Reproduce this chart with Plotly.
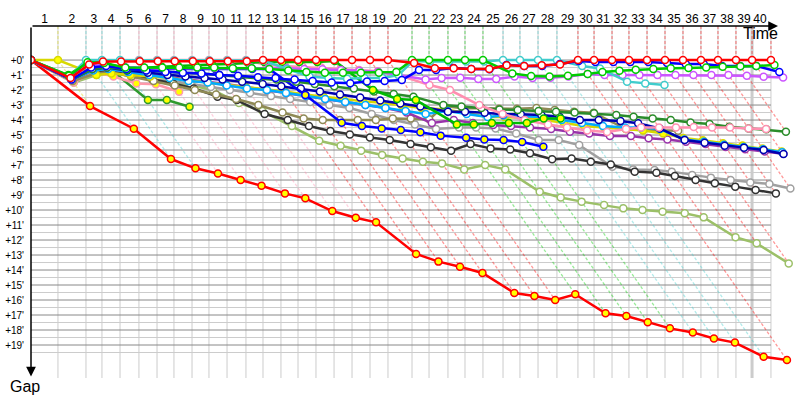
import plotly.graph_objects as go

# leader's cumulative time at the end of each lap (minutes), lap 0..40
lap_end = [0, 2.58, 5.26, 6.79, 8.52, 10.33, 12.06, 13.68, 15.41, 17.03, 18.76,
           20.57, 22.20, 23.92, 25.55, 27.27, 29.00, 30.72, 32.44, 34.16, 36.46,
           38.09, 39.90, 41.53, 43.25, 45.17, 46.79, 48.52, 50.33, 52.34, 53.88,
           55.60, 57.22, 58.95, 60.67, 62.39, 64.11, 65.74, 67.46, 69.00, 70.81]
laps = list(range(1, 41))
gap_ticks = list(range(0, 20))

# gap to the leader (minutes) at the end of every lap, starting with lap 0
gap_red = [0, 1.2, 0.3, 0.1, 0.1, 0.08, 0.08, 0.08, 0.08, 0.08, 0.08, 0.08,
           0, 0, 0, 0, 0, 0, 0, 0, 0.2, 0.55, 0.55, 0.6, 0.6, 0.35, 0.4, 0.35, 0.3,
           0, 0, 0, 0, 0, 0, 0, 0, 0, 0, 0, 0]
gap_green = [0, 1.05, 0.15, 0.2, 0.5, 0.5, 0.5, 0.5, 0.5, 0.5, 0.55, 0.55, 0.6,
             0.7, 0.8, 0.85, 0.85, 0.85, 0.85, 0.8, 0, 0, 0, 0, 0,
             0.89, 1.07, 1.1, 1.05, 0.93, 0.8, 0.71, 0.65, 0.6, 0.55, 0.53, 0.5,
             0.45, 0.42, 0.4, 0.33]
gap_cyan = [0, 1.1, 0, 0, 0, 0.03, 0.03, 0.03, 0.03, 0.03, 0.03, 0.03, 0.03,
            0.6, 1.1, 1.2, 1.25, 1.2, 1.2, 1.0, 0.07, 0.1, 0.1, 0.1, 0.1,
            0, 0, 0, 0, 0.4, 0.56, 1.44, 1.56, 1.67]
gap_violet = [0, 1.2, 0.3, 0.4, 0.5, 0.6, 0.55, 0.55, 0.55, 0.53, 0.5, 0.5, 0.53,
              0.55, 0.6, 0.62, 0.67, 0.72, 0.78, 1.0, 1.3, 1.2, 1.18, 1.27, 1.27,
              1.1, 1.2, 1.18, 1.1, 0.93, 1.0, 1.0, 1.0, 1.0, 1.0, 1.0, 1.0, 1.0,
              1.04, 1.11, 1.16]
gap_pink = [0, 1.3, 0.2, 0.1, 0.05, 0, 0, 0, 0, 0, 0, 0, 0.33, 0.4, 0.45, 0.5,
            0.6, 0.67, 0.75, 1.0, 1.67, 2.0, 3.0, 3.6, 4.0, 4.3, 4.5, 4.7, 4.8,
            4.6, 4.5, 4.5, 4.5, 4.47, 4.5, 4.5, 4.56, 4.6]
gap_darkgreen = [0, 1.3, 0.6, 0.5, 0.6, 0.7, 0.8, 0.85, 0.9, 1.0, 1.1, 1.2, 1.3,
                 1.45, 1.6, 1.75, 1.9, 2.1, 2.27, 2.44, 3.0, 3.1, 3.2, 3.3, 3.33,
                 3.4, 3.45, 3.5, 3.55, 3.67, 3.78, 3.89, 4.0, 4.16, 4.27, 4.44,
                 4.56, 4.62, 4.78]
gap_black = [0, 1.3, 0.8, 0.7, 1.0, 1.3, 1.56, 1.89, 2.44, 2.67, 3.6, 4.0, 4.4,
             4.73, 4.96, 5.16, 5.33, 5.6, 5.82, 6.04, 5.6, 5.89, 5.96, 6.22, 6.62,
             6.56, 6.78, 6.96, 7.44, 7.51, 7.73, 8.0, 8.22, 8.44, 8.67, 8.89]
gap_gray = [0, 1.4, 0.9, 0.8, 1.1, 1.3, 1.4, 1.6, 1.8, 2.0, 2.2, 2.4, 2.6, 2.8,
            3.0, 3.2, 3.6, 4.0, 4.3, 4.6, 4.5, 4.5, 4.56, 4.9, 5.33, 5.33, 5.67,
            7.11, 7.29, 7.33, 7.44, 7.67, 7.84, 8.0, 8.16, 8.27, 8.56]
gap_yellowgreen = [0, 1.5, 1.0, 0.8, 1.1, 1.3, 1.5, 1.7, 2.0, 2.87, 3.4, 4.4,
                   5.38, 5.71, 6.04, 6.33, 6.56, 6.78, 6.89, 7.29, 7.0, 7.29,
                   8.78, 9.16, 9.44, 9.67, 9.89, 10.0, 10.11, 10.22, 10.49, 11.82,
                   12.22, 13.56]
gap_red_y = [0, 3.07, 4.58, 6.6, 7.22, 7.56, 8.0, 8.38, 8.89, 9.22, 10.07, 10.51,
             10.82, 12.93, 13.44, 13.78, 14.2, 15.53, 15.73, 16.0, 15.62, 16.89,
             17.07, 17.49, 17.89, 18.16, 18.56, 18.84, 19.78, 20.0]
gap_darkgreen_y = [0, 1.2, 0.3, 0.4, 2.67, 2.67, 3.11]
gap_pink_y = [0, 1.5, 0.78, 1.1, 1.56, 1.62, 2.11]
gap_blue_y = [0, 1.1, 0.2, 0.3, 0.5, 0.55, 0.6, 0.6, 0.6, 0.6, 0.6, 0.6, 0.6,
              2.33, 4.18, 4.4, 4.56, 4.67, 4.82, 5.04, 5.18, 5.29, 5.33, 5.47, 5.78]
gap_blue = [0, 1.3, 0.5, 0.4, 0.6, 0.7, 0.8, 0.85, 0.9, 1.0, 1.05, 1.15, 1.2,
            1.3, 1.4, 1.5, 1.55, 1.43, 1.4, 1.33, 0.67, 0.67, 0.53, 0.6, 0.62,
            0.33, 0.4, 0.4, 0.27, 0.07, 0.13, 0.13, 0.13, 0.13, 0.2, 0.27, 0.27,
            0.4, 0.4, 0.4, 0.8]
gap_navy = [0, 1.3, 0.6, 0.5, 0.7, 0.85, 1.0, 1.1, 1.2, 1.3, 1.45, 1.6, 1.75,
            1.9, 2.1, 2.3, 2.5, 2.7, 2.9, 3.1, 3.44, 3.44, 3.51, 3.62, 3.62, 3.67,
            3.78, 4.0, 4.0, 4.07, 4.22, 4.56, 5.33, 5.51, 5.71, 5.84, 6.0, 6.27]
gap_olive = [0, 1.4, 0.9, 0.8, 1.1, 1.4, 1.7, 2.0, 2.3, 2.6, 3.0, 3.5, 3.89,
             4.0, 4.0, 4.0, 4.0, 3.9, 3.9, 3.95, 3.07, 3.22, 3.22, 3.25, 3.25,
             3.2, 3.33, 3.44, 3.51, 4.6, 4.67, 4.7, 4.71]
gap_lightblue = [0, 1.3, 0.7, 0.6, 0.8, 1.0, 1.2, 1.4, 1.5, 1.7, 1.9, 2.0, 2.2,
                 2.4, 2.6, 2.8, 3.0, 3.2, 3.4, 3.6, 3.4, 3.6, 3.8, 3.7, 3.75, 3.8,
                 4.0, 4.2, 4.4, 4.5, 4.5, 4.6, 5.3, 5.45, 5.65, 5.8, 5.95, 6.15]
gap_purple = [0, 1.3, 0.7, 0.6, 0.8, 1.0, 1.15, 1.3, 1.45, 1.6, 1.8, 2.0, 2.2,
              2.4, 2.6, 2.8, 3.0, 3.2, 3.5, 4.2, 4.0, 4.2, 4.33, 4.4, 4.5, 4.6,
              4.78, 4.9, 5.07, 5.07, 5.22, 5.3, 5.45, 5.6, 5.8, 5.95, 6.1, 6.25]
gap_yellow = [0, 0, 1.0, 0.9, 1.0, 1.1, 1.2, 1.35, 1.5, 1.65, 1.8, 1.95, 2.1,
              2.3, 2.45, 2.6, 2.75, 2.85, 3.0, 3.2, 3.3, 3.55, 3.8, 3.8, 3.85,
              4.0, 4.2, 4.4, 4.5, 4.6, 4.7, 4.9, 5.2, 5.35, 5.55, 5.7, 5.9, 6.1]
gap_green_y = [0, 1.0, 0.15, 0.15, 0.67, 0.52, 0.44, 0.38, 0.33, 0.3, 0.27,
               0.18, 0.13, 0.13, 0.13, 0.13, 0.07, 2.0, 2.6, 2.67, 4.29, 4.29,
               4.2, 4.2, 4.2, 3.89, 3.89]

# drawing order: first is at the bottom
cars = [
    (gap_red_y, "#ff0000", "#ffff00"),
    (gap_yellowgreen, "#9cc068", "white"),
    (gap_gray, "#a0a0a0", "white"),
    (gap_black, "#333333", "white"),
    (gap_darkgreen_y, "#2e9a2e", "#ffff00"),
    (gap_pink_y, "#ff99aa", "#ffff00"),
    (gap_olive, "#8f8a55", "white"),
    (gap_purple, "#9933aa", "white"),
    (gap_yellow, "#d8d800", "#ffff00"),
    (gap_lightblue, "#00aaff", "white"),
    (gap_navy, "#0000b0", "white"),
    (gap_blue_y, "#0000ff", "#ffff00"),
    (gap_darkgreen, "#2a8c2a", "white"),
    (gap_pink, "#ff8fb0", "white"),
    (gap_green_y, "#00bb00", "#ffff00"),
    (gap_violet, "#cc55ff", "white"),
    (gap_cyan, "#40cccc", "white"),
    (gap_blue, "#0000ff", "white"),
    (gap_green, "#00cc00", "white"),
    (gap_red, "#ff0000", "white"),
]

px_per_min = 10.45
x_max = 769 / px_per_min
y_top, y_bottom = -2.27, 21.2

fig = go.Figure()

shapes = []
# horizontal grid
for i in range(0, 40):
    g = i / 2
    shapes.append(dict(type="line", xref="x", yref="y", x0=0, x1=lap_end[-1],
                       y0=g, y1=g, layer="below",
                       line=dict(color="#888888" if i % 2 == 0 else "#cccccc", width=1)))
# vertical grid at every lap end
for n in range(1, 41):
    shapes.append(dict(type="line", xref="x", yref="paper", x0=lap_end[n], x1=lap_end[n],
                       y0=0, y1=1, layer="below",
                       line=dict(color="#cccccc", width=3 if n == 39 else 1)))

# lap lines: every car finishing lap n sits on the same diagonal
for n in range(1, 41):
    on_lap = [(g[n], col) for g, col, _ in cars if len(g) > n]
    deepest = max(v for v, _ in on_lap)
    leader_col = min(on_lap, key=lambda t: t[0])[1]
    fig.add_trace(go.Scatter(
        x=[lap_end[n], lap_end[n], lap_end[n] + deepest],
        y=[y_top, 0, deepest],
        mode="lines", hoverinfo="skip", opacity=0.4,
        line=dict(color=leader_col, width=1.3, dash="3px,2px"),
    ))

for gaps, col, fill in cars:
    xs = [lap_end[n] + g for n, g in enumerate(gaps)]
    fig.add_trace(go.Scatter(
        x=xs, y=gaps, mode="lines+markers",
        line=dict(color=col, width=2.5),
        marker=dict(size=7, color=fill, line=dict(color=col, width=1.5)),
    ))

# lap labels sit in the middle of each lap; the last one is squeezed against the finish line
label_pos = [(lap_end[n - 1] + lap_end[n]) / 2 for n in laps]
label_pos[-1] = lap_end[39] + 0.75

font = "Liberation Sans, Arial, sans-serif"
fig.update_layout(
    width=800, height=400,
    margin=dict(l=31, r=0, t=26, b=22),
    paper_bgcolor="white", plot_bgcolor="white",
    showlegend=False,
    shapes=shapes,
    font=dict(family=font, color="black"),
    xaxis=dict(
        range=[0, x_max], side="top", automargin=False,
        tickvals=label_pos,
        ticktext=[str(n) for n in laps],
        tickfont=dict(size=12), ticks="", tickangle=0,
        showgrid=False, zeroline=False, showline=False,
    ),
    yaxis=dict(
        range=[y_bottom, y_top], automargin=False,
        tickvals=gap_ticks,
        ticktext=[f"+{v}'" for v in gap_ticks],
        tickfont=dict(size=10), ticks="", ticklabelstandoff=6,
        showgrid=False, zeroline=False, showline=False,
    ),
    annotations=[
        dict(x=(778 - 31) / px_per_min, y=y_top, xref="x", yref="y",
             ax=0, ay=y_top, axref="x", ayref="y", text="",
             showarrow=True, arrowhead=2, arrowsize=1.3, arrowwidth=1.5, arrowcolor="black"),
        dict(x=0, y=21.1, xref="x", yref="y",
             ax=0, ay=y_top, axref="x", ayref="y", text="",
             showarrow=True, arrowhead=2, arrowsize=1.3, arrowwidth=1.5, arrowcolor="black"),
        dict(x=(760 - 31) / 769, y=(378 - 34) / 352, xref="paper", yref="paper",
             xanchor="center", yanchor="middle",
             text="Time", showarrow=False, font=dict(size=16, family=font)),
        dict(x=(25 - 31) / 769, y=(378 - 386) / 352, xref="paper", yref="paper",
             xanchor="center", yanchor="middle",
             text="Gap", showarrow=False, font=dict(size=16, family=font)),
    ],
)

# the page body has a default 8px margin; drop it so the figure sits at the window corner
fig.write_html("out.html", config={"displayModeBar": False},
               post_script="document.body.style.margin='0';")
